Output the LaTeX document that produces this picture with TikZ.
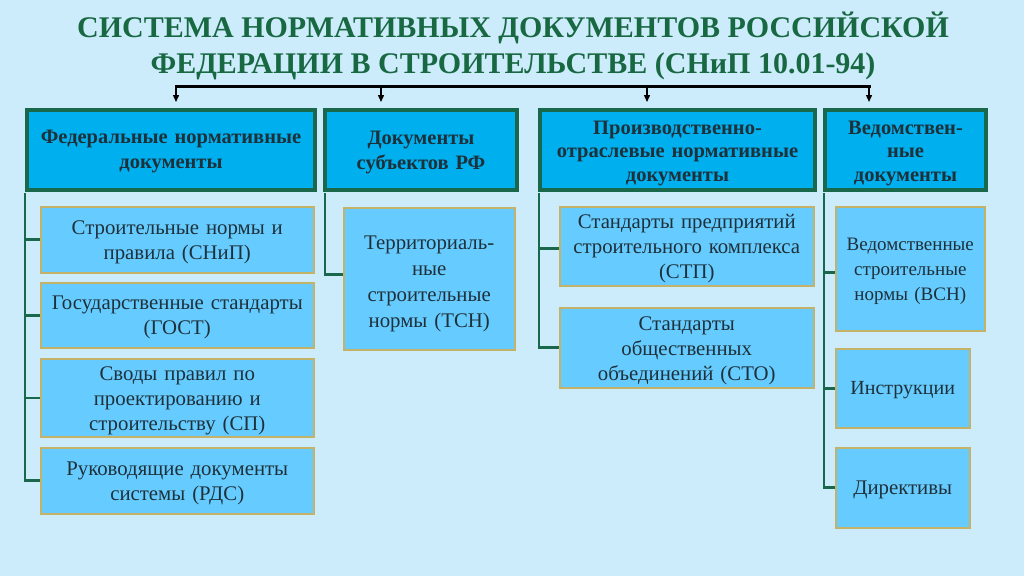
\documentclass[tikz,border=0pt]{standalone}
\usepackage{fontspec}
\setmainfont{Liberation Serif}
\usetikzlibrary{arrows.meta}
\definecolor{bgc}{RGB}{204,236,252}
\definecolor{titlec}{RGB}{24,104,66}
\definecolor{hdrfill}{RGB}{0,176,238}
\definecolor{hdrline}{RGB}{26,104,76}
\definecolor{chfill}{RGB}{102,204,255}
\definecolor{chline}{RGB}{196,178,104}
\definecolor{txtc}{RGB}{30,48,58}
\newcommand{\lowerby}[1]{\rule{0pt}{#1}}
\tikzset{
  ttl/.style={text=titlec, font=\bfseries\fontsize{30}{36}\selectfont, anchor=base, inner sep=0pt},
  hdr/.style={draw=hdrline, line width=4pt, fill=hdrfill, anchor=north west, align=center,
    text=txtc, font=\bfseries\fontsize{20.5}{25}\selectfont, inner sep=2pt},
  chbox/.style={draw=chline, line width=1.5pt, fill=chfill, anchor=north west, align=center,
    text=txtc, font=\fontsize{20.8}{25}\selectfont, inner sep=2pt},
  spine/.style={draw=hdrline, line width=2.6pt},
  brk/.style={draw=black, line width=1.4pt, -{Triangle[length=7pt,width=6pt]}},
}
\begin{document}
\begin{tikzpicture}[x=1pt,y=-1pt]
\useasboundingbox (0,0) rectangle (1024,576);
\fill[bgc] (0,0) rectangle (1024,576);
% title
\node[ttl] (title1) at (513,37) {СИСТЕМА НОРМАТИВНЫХ ДОКУМЕНТОВ РОССИЙСКОЙ};
\node[ttl] (title2) at (513,73) {ФЕДЕРАЦИИ В СТРОИТЕЛЬСТВЕ (СНиП 10.01-94)};
% headers
\node[hdr, minimum width=288pt, minimum height=80pt, text width=284pt] (h1) at (25,108) {\lowerby{17pt}Федеральные нормативные\\документы};
\node[hdr, minimum width=192pt, minimum height=80pt, text width=186pt] (h2) at (323,108) {\lowerby{18pt}Документы\\субъектов РФ};
\node[hdr, minimum width=275pt, minimum height=80pt, text width=270pt, font=\bfseries\fontsize{20.5}{23.5}\selectfont] (h3) at (538,108) {\lowerby{19.5pt}Производственно-\\отраслевые нормативные\\документы};
\node[hdr, minimum width=161pt, minimum height=80pt, text width=156pt, font=\bfseries\fontsize{20.5}{23.5}\selectfont] (h4) at (823,108) {\lowerby{19.5pt}Ведомствен-\\ные\\документы};
% bracket
\coordinate (b1) at (176,86);
\coordinate (b2) at (381,86);
\coordinate (b3) at (647,86);
\coordinate (b4) at (869,86);
\draw[line width=3pt, line cap=rect] (b1) -- (b4);
\draw[brk] (b1) -- ([yshift=6pt]b1 |- h1.north);
\draw[brk] (b2) -- ([yshift=6pt]b2 |- h2.north);
\draw[brk] (b3) -- ([yshift=6pt]b3 |- h3.north);
\draw[brk] (b4) -- ([yshift=6pt]b4 |- h4.north);
% column 1
\node[chbox, minimum width=273pt, minimum height=66pt, text width=269pt] (c11) at (40,206) {\lowerby{18pt}Строительные нормы и\\правила (СНиП)};
\node[chbox, minimum width=273pt, minimum height=65pt, text width=269pt] (c12) at (40,282) {\lowerby{18pt}Государственные стандарты\\(ГОСТ)};
\node[chbox, minimum width=273pt, minimum height=78pt, text width=269pt] (c13) at (40,358) {\lowerby{20pt}Своды правил по\\проектированию и\\строительству (СП)};
\node[chbox, minimum width=273pt, minimum height=66pt, text width=269pt] (c14) at (40,447) {\lowerby{18pt}Руководящие документы\\системы (РДС)};
% column 2
\node[chbox, minimum width=171pt, minimum height=142pt, text width=165pt, font=\fontsize{20.8}{26}\selectfont] (c21) at (343,207) {\lowerby{24pt}Территориаль-\\ные\\строительные\\нормы (ТСН)};
% column 3
\node[chbox, minimum width=254pt, minimum height=79pt, text width=250pt] (c31) at (559,206) {\lowerby{19pt}Стандарты предприятий\\строительного комплекса\\(СТП)};
\node[chbox, minimum width=254pt, minimum height=80pt, text width=250pt] (c32) at (559,307) {\lowerby{20pt}Стандарты\\общественных\\объединений (СТО)};
% column 4
\node[chbox, minimum width=149pt, minimum height=124pt, text width=145pt, font=\fontsize{19}{25}\selectfont] (c41) at (835,206) {\lowerby{18pt}Ведомственные\\строительные\\нормы (ВСН)};
\node[chbox, minimum width=134pt, minimum height=79pt, text width=130pt, font=\fontsize{20}{25}\selectfont] (c42) at (835,348) {\lowerby{16pt}Инструкции};
\node[chbox, minimum width=134pt, minimum height=80pt, text width=130pt] (c43) at (835,447) {\lowerby{17pt}Директивы};
% spines
\draw[spine] ([yshift=-1pt]h1.south west) |- (c11.west);
\draw[spine] ([yshift=-1pt]h1.south west) |- (c12.west);
\draw[spine] ([yshift=-1pt]h1.south west) |- (c13.west);
\draw[spine] ([yshift=-1pt]h1.south west) |- (c14.west);
\draw[spine] ([xshift=2pt,yshift=-1pt]h2.south west) |- ([yshift=4pt]c21.west);
\draw[spine] ([xshift=1pt,yshift=-1pt]h3.south west) |- ([yshift=-2pt]c31.west);
\draw[spine] ([xshift=1pt,yshift=-1pt]h3.south west) |- (c32.west);
\draw[spine] ([xshift=1pt,yshift=-1pt]h4.south west) |- ([yshift=-4pt]c41.west);
\draw[spine] ([xshift=1pt,yshift=-1pt]h4.south west) |- (c42.west);
\draw[spine] ([xshift=1pt,yshift=-1pt]h4.south west) |- (c43.west);
\end{tikzpicture}
\end{document}
